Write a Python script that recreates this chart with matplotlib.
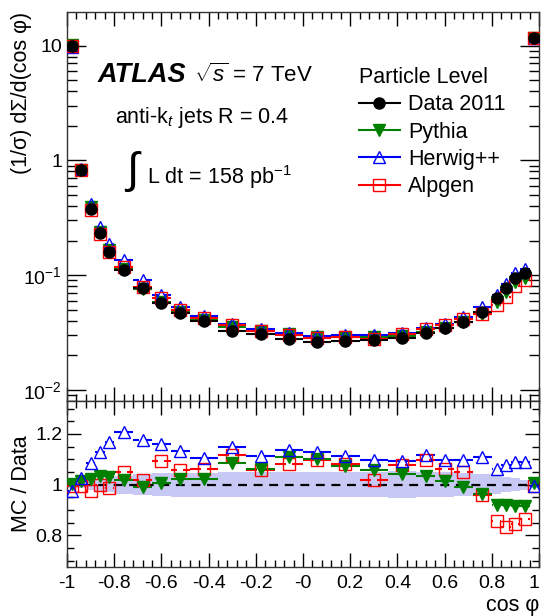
import matplotlib
matplotlib.use("Agg")
import matplotlib.pyplot as plt
import numpy as np
from matplotlib.lines import Line2D
from matplotlib.ticker import FixedLocator, FixedFormatter, MultipleLocator

plt.rcParams['font.family'] = ['Liberation Sans', 'DejaVu Sans']
plt.rcParams['mathtext.fontset'] = 'custom'
plt.rcParams['mathtext.rm'] = 'Liberation Sans'
plt.rcParams['mathtext.it'] = 'Liberation Sans:italic'
plt.rcParams['mathtext.bf'] = 'Liberation Sans:bold'
plt.rcParams['axes.unicode_minus'] = False

# bin edges in cos(phi)
edges = [-1.0, -0.96, -0.92, -0.88, -0.84, -0.80, -0.72, -0.64, -0.56, -0.48,
         -0.36, -0.24, -0.12, 0.0, 0.12, 0.24, 0.36, 0.48, 0.56, 0.64, 0.72,
         0.80, 0.84, 0.88, 0.92, 0.96, 1.0]

data = [10.0, 0.82, 0.38, 0.231, 0.16, 0.111, 0.0767, 0.0575, 0.047, 0.040,
        0.0328, 0.0305, 0.0276, 0.026, 0.0269, 0.0272, 0.0285, 0.0311, 0.0344,
        0.0393, 0.048, 0.0635, 0.0776, 0.095, 0.104, 11.6]

# MC / data ratios
r_pythia = [1.004, 1.013, 1.022, 1.033, 1.030, 1.02, 0.99, 1.007, 1.023, 1.021,
            1.086, 1.062, 1.108, 1.101, 1.075, 1.056, 1.042, 1.033, 1.013, 0.991,
            0.964, 0.921, 0.918, 0.917, 0.914, 1.007]
r_herwig = [0.974, 1.026, 1.086, 1.127, 1.168, 1.208, 1.178, 1.159, 1.131, 1.104,
            1.148, 1.112, 1.138, 1.129, 1.112, 1.097, 1.092, 1.118, 1.099, 1.099,
            1.109, 1.063, 1.079, 1.089, 1.089, 0.993]
r_alpgen = [0.993, 0.995, 0.976, 0.997, 0.987, 1.05, 1.02, 1.092, 1.059, 1.062,
            1.116, 1.059, 1.082, 1.099, 1.083, 1.017, 1.079, 1.096, 1.062, 1.049,
            0.961, 0.858, 0.833, 0.845, 0.865, 0.996]

# data uncertainty band (relative half width)
band = [0.015, 0.015, 0.02, 0.025, 0.03, 0.035, 0.04, 0.045, 0.047, 0.047,
        0.048, 0.048, 0.048, 0.048, 0.05, 0.05, 0.052, 0.05, 0.048, 0.045,
        0.04, 0.035, 0.03, 0.025, 0.02, 0.015]

edges = np.array(edges)
lo, hi = edges[:-1], edges[1:]
xc = 0.5 * (lo + hi)
data = np.array(data)

series = [
    ('Pythia', np.array(r_pythia), '#008000', 'v', '#008000'),
    ('Herwig++', np.array(r_herwig), 'blue', '^', 'none'),
    ('Alpgen', np.array(r_alpgen), 'red', 's', 'none'),
]

fig = plt.figure(figsize=(5.41, 6.16), dpi=100)
W, H = 541.0, 616.0
ax1 = fig.add_axes([67 / W, 1 - 401 / H, 472 / W, 389 / H])
ax2 = fig.add_axes([67 / W, 1 - 567 / H, 472 / W, 166 / H], sharex=ax1)

gap = 0.013


def hbars(ax, y, color, lw=1.5):
    # horizontal bin-width bars with a small gap round the marker
    ax.hlines(y, lo, np.maximum(xc - gap, lo), color=color, lw=lw, zorder=3)
    ax.hlines(y, np.minimum(xc + gap, hi), hi, color=color, lw=lw, zorder=3)


# ---- top panel ----
for name, r, col, mk, fc in series:
    y = data * r
    hbars(ax1, y, col)
    ax1.plot(xc, y, ls='none', marker=mk, ms=8, mfc=fc, mec=col, mew=1.0, zorder=4)
hbars(ax1, data, 'black')
ax1.plot(xc, data, ls='none', marker='o', ms=8, color='black', zorder=5)

ax1.set_yscale('log')
ax1.set_ylim(0.008, 19.6)
ax1.set_xlim(-1, 1)
ax1.yaxis.set_major_locator(FixedLocator([0.01, 0.1, 1, 10]))
ax1.yaxis.set_major_formatter(FixedFormatter(['$10^{-2}$', '$10^{-1}$', '1', '10']))
minors = [m * d for d in [0.001, 0.01, 0.1, 1, 10] for m in range(2, 10)]
ax1.yaxis.set_minor_locator(FixedLocator(minors))
ax1.yaxis.set_minor_formatter(FixedFormatter([''] * len(minors)))
plt.setp(ax1.get_xticklabels(), visible=False)

# ---- ratio panel ----
yl = np.r_[1 - np.array(band), 1 - band[-1]]
yh = np.r_[1 + np.array(band), 1 + band[-1]]
ax2.fill_between(edges, yl, yh, step='post', color='#c8c8f5', lw=0, zorder=1)
ax2.axhline(1, color='black', ls=(0, (4, 3)), lw=1.6, zorder=2)
for name, r, col, mk, fc in [series[2], series[0], series[1]]:
    hbars(ax2, r, col)
    ax2.plot(xc, r, ls='none', marker=mk, ms=9, mfc=fc, mec=col, mew=1.0, zorder=4)

ax2.set_ylim(0.675, 1.33)
ax2.yaxis.set_major_locator(FixedLocator([0.8, 1.0, 1.2]))
ax2.yaxis.set_major_formatter(FixedFormatter(['0.8', '1', '1.2']))
ax2.yaxis.set_minor_locator(MultipleLocator(0.05))
ax2.xaxis.set_minor_locator(MultipleLocator(0.04))
xt = np.arange(-1, 1.01, 0.2)
ax2.xaxis.set_major_locator(FixedLocator(xt))
ax2.xaxis.set_major_formatter(FixedFormatter(['%g' % round(v, 1) for v in xt]))

for ax in (ax1, ax2):
    ax.tick_params(which='both', direction='in', top=True, right=True,
                   labelsize=14, colors='black', width=1)
    ax.tick_params(which='major', length=10)
    ax.tick_params(which='minor', length=5)
    for s in ax.spines.values():
        s.set_linewidth(1.0)
        s.set_color('#333333')
ax1.tick_params(axis='y', which='major', length=14)
ax1.tick_params(axis='y', which='minor', length=7)
ax2.tick_params(axis='x', which='major', pad=6)

fig.canvas.draw()
ax2.get_xticklabels()[-1].set_horizontalalignment('right')

# ---- labels ----
fig.text(22 / W, 1 - 12 / H, '(1/σ) dΣ/d(cos φ)', rotation=90, ha='center', va='top',
         fontsize=15.5)
fig.text(22 / W, 1 - 484 / H, 'MC / Data', rotation=90, ha='center', va='center',
         fontsize=15.5)
fig.text(539 / W, 1 - 605 / H, 'cos φ', ha='right', va='center', fontsize=15.5)

fig.text(98 / W, 1 - 75 / H, 'ATLAS', fontsize=19.5,
         fontweight='bold', fontstyle='italic', va='center')
fig.text(194 / W, 1 - 75 / H, '$\\sqrt{s}$ = 7 TeV', fontsize=16, va='center')
fig.text(115 / W, 1 - 118 / H, 'anti-k$_t$ jets R = 0.4', fontsize=15.5, va='center')
fig.text(124 / W, 1 - 172 / H, '$\\int$', fontsize=32, va='center')
fig.text(147 / W, 1 - 177 / H, 'L dt = 158 pb$^{-1}$', fontsize=15.5, va='center')

handles = [Line2D([], [], color='black', marker='o', ms=8, lw=1.5)]
for name, r, col, mk, fc in series:
    handles.append(Line2D([], [], color=col, marker=mk, ms=9, mfc=fc, mec=col, lw=1.5))
labels = ['Data 2011', 'Pythia', 'Herwig++', 'Alpgen']
leg = ax1.legend(handles, labels, title='Particle Level', loc='upper left',
                 bbox_to_anchor=(350 / W, 1 - 58 / H), bbox_transform=fig.transFigure,
                 frameon=False, fontsize=15.5, title_fontsize=15.5, handlelength=1.9,
                 handletextpad=0.4, labelspacing=0.3, borderaxespad=0)
leg._legend_box.align = 'left'

fig.savefig('out.png', dpi=100)
